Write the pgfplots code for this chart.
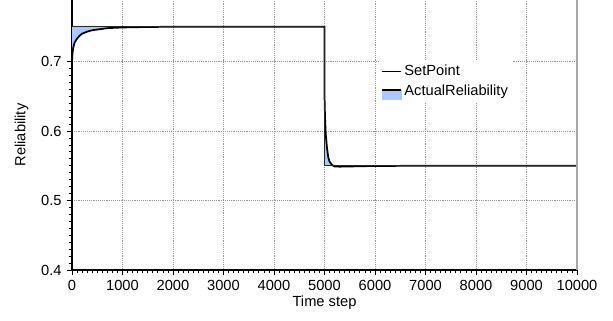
\documentclass[border=0pt,11pt]{standalone}
\usepackage{fontspec}
\setmainfont{Liberation Sans}
\usepackage{pgfplots}
\pgfplotsset{compat=1.18}
\definecolor{fillblue}{RGB}{168,200,255}
\begin{document}
\begin{tikzpicture}
\begin{axis}[name=ax, scale only axis, width=378.75pt, height=202.5pt,
  xmin=0, xmax=10000, ymin=0.4, ymax=0.7885,
  xtick={0,1000,...,10000}, ytick={0.4,0.5,0.6,0.7},
  minor x tick num=9, minor y tick num=9,
  axis x line*=bottom, axis y line*=left,
  axis line style={-, black, line width=0.8pt},
  tick align=outside,
  major tick length=4pt, minor tick length=2.5pt,
  every tick/.style={black, line width=0.6pt},
  grid=major, grid style={densely dotted, gray!80, line width=0.55pt},
  xlabel={Time step}, ylabel={Reliability},
  scaled x ticks=false,
  xticklabel style={/pgf/number format/1000 sep={}},
  /pgf/number format/assume math mode=true,
  tick label style={font=\fontsize{11}{13}\selectfont},
  label style={font=\fontsize{11}{13}\selectfont},
  xlabel style={yshift=4pt},
  ylabel style={yshift=2pt},
  legend style={at={(0.607,0.78)}, anchor=north west, draw=none, fill=white,
    font=\fontsize{11}{13}\selectfont, inner sep=2pt, row sep=1pt},
  legend cell align=left,
]
\addlegendimage{legend image code/.code={\draw[black,line width=0.6pt] (0pt,0pt)--(14pt,0pt);}}
\addlegendentry{SetPoint}
\addlegendimage{legend image code/.code={\fill[fillblue] (0pt,-6pt) rectangle (14pt,0.5pt); \draw[black,line width=1.2pt] (0pt,0.5pt)--(14pt,0.5pt);}}
\addlegendentry{ActualReliability}
% fill between setpoint and actual
\addplot[fill=fillblue, draw=none, forget plot] coordinates {
(0,0.750) (0,0.700) (10,0.712) (25,0.720) (50,0.727) (100,0.733) (150,0.737) (200,0.740)
(300,0.743) (400,0.745) (500,0.746) (700,0.748) (1000,0.749) (1500,0.7497) (2000,0.750) (0,0.750)};
\addplot[fill=fillblue, draw=none, forget plot] coordinates {
(5000,0.550) (5000,0.652) (5010,0.620) (5025,0.595) (5050,0.575) (5075,0.562) (5100,0.556)
(5150,0.551) (5200,0.550) (5000,0.550)};
% actual reliability
\addplot[black, line width=1.3pt, forget plot] coordinates {
(0,0.700) (10,0.712) (25,0.720) (50,0.727) (100,0.733) (150,0.737) (200,0.740)
(300,0.743) (400,0.745) (500,0.746) (700,0.748) (1000,0.749) (1500,0.7497) (2000,0.750)
(5000,0.750) (5000,0.652) (5010,0.620) (5025,0.595) (5050,0.575) (5075,0.562) (5100,0.556)
(5150,0.551) (5200,0.5490) (5300,0.5487) (5500,0.5490) (6000,0.5497) (7000,0.550) (10000,0.550)};
% set point
\addplot[black!85, line width=0.7pt, forget plot] coordinates {
(0,0.75) (5000,0.75) (5000,0.55) (10000,0.55)};
\end{axis}
\draw[gray!70, line width=1pt] (ax.south east) -- (ax.north east);
\pgfresetboundingbox
\path ([xshift=-54pt,yshift=-37.5pt]ax.south west) rectangle ([xshift=27pt]ax.north east);
\end{tikzpicture}
\end{document}
